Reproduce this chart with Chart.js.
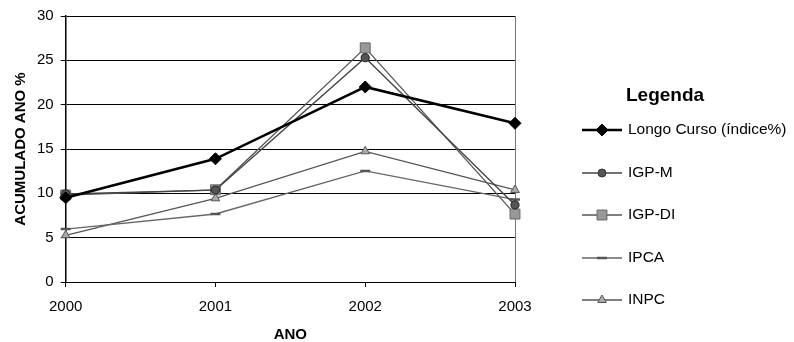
<!DOCTYPE html>
<html><head><meta charset="utf-8">
<script src="https://cdn.jsdelivr.net/npm/chart.js@4.4.0/dist/chart.umd.min.js"></script>
<style>html,body{margin:0;padding:0;background:#fff}#w{width:794px;height:342px;position:relative}</style>
</head><body><div id="w"><canvas id="c" width="794" height="342"></canvas></div>
<script>
const categories = ['2000','2001','2002','2003'];
const longoCurso = [9.5, 13.9, 22.0, 17.9];
const igpM = [9.95, 10.37, 25.30, 8.69];
const igpDI = [9.81, 10.40, 26.41, 7.66];
const ipca = [5.97, 7.67, 12.53, 9.30];
const inpc = [5.27, 9.44, 14.74, 10.38];
const seriesNames = ['Longo Curso (índice%)','IGP-M','IGP-DI','IPCA','INPC'];
const yTicks = [0,5,10,15,20,25,30];
const legendTitle = 'Legenda';

const FONT = '"Liberation Sans", Arial, sans-serif';
const datasets = [
 {label:seriesNames[0],data:longoCurso,borderColor:'#000',backgroundColor:'#000',borderWidth:2.5,pointStyle:'rectRot',pointRadius:6,pointBorderWidth:1,pointBorderColor:'#000'},
 {label:seriesNames[1],data:igpM,borderColor:'#444',backgroundColor:'#555',borderWidth:1.3,pointStyle:'circle',pointRadius:4,pointBorderColor:'#333'},
 {label:seriesNames[2],data:igpDI,borderColor:'#555',backgroundColor:'#999',borderWidth:1.3,pointStyle:'rect',pointRadius:7,pointBorderColor:'#666',pointBorderWidth:1},
 {label:seriesNames[3],data:ipca,borderColor:'#666',backgroundColor:'#555',borderWidth:1.3,pointStyle:'line',pointRadius:5,pointBorderWidth:2.5,pointBorderColor:'#555'},
 {label:seriesNames[4],data:inpc,borderColor:'#555',backgroundColor:'#aaa',borderWidth:1.3,pointStyle:'triangle',pointRadius:5,pointBorderColor:'#555',pointBorderWidth:1}
];

const legendPlugin = {
 id:'customLegend',
 afterDraw(chart){
  const ctx = chart.ctx;
  ctx.save();
  ctx.fillStyle = '#000';
  ctx.font = 'bold 19px ' + FONT;
  ctx.textBaseline = 'middle';
  ctx.fillText(legendTitle, 626, 96);
  const ys = [130,173,215,258,300];
  chart.data.datasets.forEach((ds,i)=>{
    const y = ys[i];
    ctx.strokeStyle = ds.borderColor;
    ctx.lineWidth = ds.borderWidth;
    ctx.beginPath(); ctx.moveTo(582,y); ctx.lineTo(622,y); ctx.stroke();
    ctx.fillStyle = ds.backgroundColor;
    ctx.strokeStyle = ds.pointBorderColor;
    ctx.lineWidth = ds.pointBorderWidth || 1;
    Chart.helpers.drawPoint(ctx,{pointStyle:ds.pointStyle,radius:ds.pointRadius,rotation:0,borderWidth:ds.pointBorderWidth||1},602,y);
    ctx.fillStyle = '#000';
    ctx.font = '15.5px ' + FONT;
    ctx.textBaseline = 'middle';
    ctx.fillText(ds.label, 628, y);
  });
  ctx.restore();
 }
};

new Chart(document.getElementById('c'),{
 type:'line',
 data:{labels:categories,datasets},
 options:{
  responsive:false,animation:false,
  layout:{padding:{top:6,right:279,left:8,bottom:-6}},
  plugins:{legend:{display:false},tooltip:{enabled:false}},
  elements:{line:{tension:0}},
  scales:{
   x:{offset:false,
      grid:{display:true,drawOnChartArea:true,color:(c)=>c.index===3?'#777':'rgba(0,0,0,0)',tickColor:'#000',tickLength:5},
      border:{display:true,color:'#000',width:1},
      ticks:{color:'#000',font:{family:FONT,size:15,lineHeight:1},padding:12},
      title:{display:true,text:'ANO',color:'#000',font:{family:FONT,size:15,weight:'bold'},padding:{top:0}}},
   y:{min:0,max:30,
      afterBuildTicks:(s)=>{s.ticks=yTicks.map(v=>({value:v}));},
      grid:{color:'#000',lineWidth:1,tickColor:'#000',tickLength:5},
      border:{display:true,color:'#000',width:1.5},
      ticks:{color:'#000',font:{family:FONT,size:15},padding:7},
      title:{display:true,text:'ACUMULADO ANO %',color:'#000',font:{family:FONT,size:15,weight:'bold'},padding:{bottom:0}}}
  }
 },
 plugins:[legendPlugin]
});
</script></body></html>
